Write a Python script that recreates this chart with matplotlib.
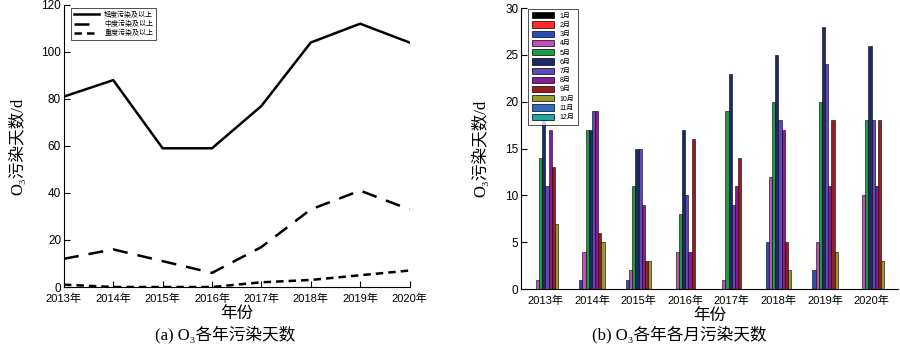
import numpy as np
import matplotlib.pyplot as plt
from matplotlib.patches import Patch

plt.rcParams['font.family'] = ['Liberation Sans', 'Noto Sans CJK SC']
plt.rcParams['xtick.direction'] = 'in'
plt.rcParams['ytick.direction'] = 'in'

years = ['2013年', '2014年', '2015年', '2016年', '2017年', '2018年', '2019年', '2020年']

# (a) yearly pollution days
light = [81, 88, 59, 59, 77, 104, 112, 104]
moderate = [12, 16, 11, 6, 17, 33, 41, 33]
heavy = [1, 0, 0, 0, 2, 3, 5, 7]
line_labels = ['轻度污染及以上', '中度污染及以上', '重度污染及以上']

# (b) monthly pollution days, rows = years, cols = months 1..12
months = ['1月', '2月', '3月', '4月', '5月', '6月', '7月', '8月', '9月', '10月', '11月', '12月']
monthly = [
    [0, 0, 0, 1, 14, 18, 11, 17, 13, 7, 0, 0],
    [0, 0, 1, 4, 17, 17, 19, 19, 6, 5, 0, 0],
    [0, 0, 1, 2, 11, 15, 15, 9, 3, 3, 0, 0],
    [0, 0, 0, 4, 8, 17, 10, 4, 16, 0, 0, 0],
    [0, 0, 0, 1, 19, 23, 9, 11, 14, 0, 0, 0],
    [0, 0, 5, 12, 20, 25, 18, 17, 5, 2, 0, 0],
    [0, 0, 2, 5, 20, 28, 24, 11, 18, 4, 0, 0],
    [0, 0, 0, 10, 18, 26, 18, 11, 18, 3, 0, 0],
]
month_colors = ['#000000', '#ff2a2a', '#2a4fb0', '#c050b8', '#1f9a45', '#1c2b66',
                '#6048b8', '#8a1a96', '#9a1c22', '#9a9a2e', '#2f6cc0', '#20a8a0']

fig = plt.figure(figsize=(9, 3.5), dpi=100)
lab_font = ['Liberation Serif', 'Noto Sans CJK SC']
ylab = 'O₃污染天数/d'

# ---- left panel
ax1 = fig.add_axes([0.071, 0.18, 0.384, 0.806])
x = np.arange(len(years))
ax1.plot(x, light, color='black', lw=1.8, ls='-', label=line_labels[0])
ax1.plot(x, moderate, color='black', lw=1.8, ls=(0, (6, 4)), label=line_labels[1])
ax1.plot(x, heavy, color='black', lw=1.8, ls=(0, (3, 2)), label=line_labels[2])
ax1.set_xlim(0, 7)
ax1.set_ylim(0, 120)
ax1.set_xticks(x)
ax1.set_xticklabels(years, fontsize=8)
ax1.set_yticks(np.arange(0, 121, 20))
ax1.tick_params(axis='y', labelsize=8.5, length=4, pad=2)
ax1.tick_params(axis='x', length=4, pad=5)
for s in ['top', 'right']:
    ax1.spines[s].set_visible(False)
ax1.set_ylabel(ylab, family=lab_font, fontsize=12, labelpad=11)
ax1.set_xlabel('年份', fontsize=12, labelpad=1)
leg1 = ax1.legend(loc='upper left', bbox_to_anchor=(0.01, 1.0), fontsize=5,
                  frameon=True, fancybox=False, edgecolor='black',
                  handlelength=3.6, borderpad=0.4, labelspacing=0.3)
leg1.get_frame().set_linewidth(0.6)

# ---- right panel
ax2 = fig.add_axes([0.579, 0.174, 0.419, 0.803])
w = 0.068
for m in range(len(months)):
    vals = [row[m] for row in monthly]
    ax2.bar(x + (m - 5.5) * w, vals, width=w, color=month_colors[m],
            edgecolor='black', linewidth=0.4)
ax2.set_xlim(-0.52, 7.57)
ax2.set_ylim(0, 30)
ax2.set_xticks(x)
ax2.set_xticklabels(years, fontsize=8)
ax2.set_yticks(np.arange(0, 31, 5))
ax2.tick_params(axis='y', labelsize=8.5, length=4, pad=2)
ax2.tick_params(axis='x', length=0, pad=5)
for s in ['top', 'right']:
    ax2.spines[s].set_visible(False)
ax2.set_ylabel(ylab, family=lab_font, fontsize=12, labelpad=11)
ax2.set_xlabel('年份', fontsize=12, labelpad=1)
handles = [Patch(facecolor=c, edgecolor='black', linewidth=0.5) for c in month_colors]
leg2 = ax2.legend(handles, months, loc='upper left', bbox_to_anchor=(0.01, 1.01),
                  fontsize=5, frameon=True, fancybox=False, edgecolor='black',
                  handlelength=3.2, handleheight=1.0, borderpad=0.5, labelspacing=0.25)
leg2.get_frame().set_linewidth(0.6)

fig.text(0.25, 0.03, '(a) O₃各年污染天数', family=lab_font, fontsize=12, ha='center')
fig.text(0.755, 0.03, '(b) O₃各年各月污染天数', family=lab_font, fontsize=12, ha='center')

fig.savefig('out.png', dpi=100)
